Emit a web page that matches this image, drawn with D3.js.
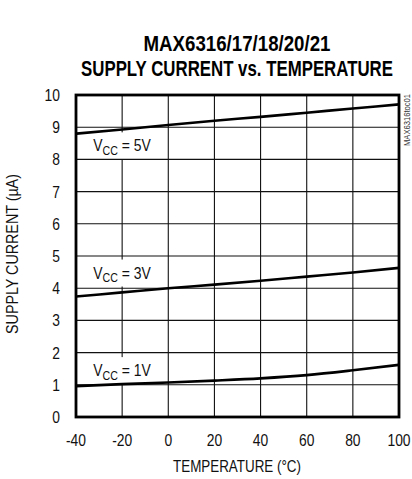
<!DOCTYPE html>
<html>
<head>
<meta charset="utf-8">
<script src="https://cdn.jsdelivr.net/npm/d3@7/dist/d3.min.js"></script>
<style>
html,body{margin:0;padding:0;background:#fff;}
svg{display:block;}
text{font-family:"Liberation Sans Narrow","Arial Narrow","Liberation Sans",Arial,sans-serif;fill:#000;}
</style>
</head>
<body>
<svg id="chart" width="412" height="479"></svg>
<script>
const titleLines = ["MAX6316/17/18/20/21", "SUPPLY CURRENT vs. TEMPERATURE"];
const xLabel = "TEMPERATURE (°C)";
const yLabel = "SUPPLY CURRENT (µA)";
const codeLabel = "MAX6316toc01";
const temps = [-40, -20, 0, 20, 40, 60, 80, 100];
const vcc5 = [8.80, 8.93, 9.07, 9.20, 9.32, 9.45, 9.58, 9.71];
const vcc3 = [3.74, 3.87, 4.00, 4.11, 4.23, 4.36, 4.49, 4.63];
const vcc1 = [0.96, 1.02, 1.07, 1.13, 1.20, 1.30, 1.45, 1.62];
const seriesNames = ["5V", "3V", "1V"];
const xTicks = [-40, -20, 0, 20, 40, 60, 80, 100];
const yTicks = [0, 1, 2, 3, 4, 5, 6, 7, 8, 9, 10];
// label anchor (data coords): temperature, current
const labelPos = [[-32.5, 8.25], [-32.5, 4.3], [-32.5, 1.27]];

const svg = d3.select("#chart");
const L = 76, R = 399, T = 95, B = 417;
const x = d3.scaleLinear().domain([-40, 100]).range([L, R]);
const y = d3.scaleLinear().domain([0, 10]).range([B, T]);

// helper: horizontally condensed text (narrow face emulation)
function ntext(parent, px, py, s, size, opt) {
  opt = opt || {};
  const g = parent.append("g").attr("transform",
    `translate(${px},${py})` + (opt.rotate ? ` rotate(${opt.rotate})` : ""));
  const t = g.append("text").attr("font-size", size)
    .attr("text-anchor", opt.anchor || "start")
    .attr("font-weight", opt.bold ? "bold" : null)
    .text(s);
  if (opt.fill) t.style("fill", opt.fill);
  let sx = opt.sx || 0.82;
  if (opt.width) sx = opt.width / t.node().getComputedTextLength();
  t.attr("transform", `scale(${sx},1)`);
  return t;
}

// title
ntext(svg, 237, 51, titleLines[0], 22, {anchor: "middle", bold: true, width: 187});
ntext(svg, 237, 76, titleLines[1], 22, {anchor: "middle", bold: true, width: 312});

// vertical gridlines
svg.append("g").selectAll("line").data(xTicks.slice(1, -1)).join("line")
  .attr("x1", d => x(d)).attr("x2", d => x(d)).attr("y1", T).attr("y2", B)
  .attr("stroke", "#111").attr("stroke-width", 1.1);

// series label boxes + labels
const seriesData = [vcc5, vcc3, vcc1];
const labels = svg.append("g");
seriesNames.forEach((name, i) => {
  const px = x(labelPos[i][0]), py = y(labelPos[i][1]);
  labels.append("rect").attr("x", px - 4).attr("y", py - 19).attr("width", 66).attr("height", 27)
    .attr("fill", "#fff");
  const g = labels.append("g").attr("transform", `translate(${px},${py}) scale(0.82,1)`);
  const t = g.append("text").attr("font-size", 17).style("fill", "#111");
  t.append("tspan").text("V");
  t.append("tspan").attr("font-size", 13).attr("dy", 3.5).text("CC");
  t.append("tspan").attr("dy", -3.5).text(" = " + name);
});

// horizontal gridlines
svg.append("g").selectAll("line").data(yTicks.slice(1, -1)).join("line")
  .attr("x1", L).attr("x2", R).attr("y1", d => y(d)).attr("y2", d => y(d))
  .attr("stroke", "#111").attr("stroke-width", 1.1);

// curves
const line = d3.line().x((d, i) => x(temps[i])).y(d => y(d)).curve(d3.curveMonotoneX);
svg.append("g").selectAll("path").data(seriesData).join("path")
  .attr("d", d => line(d)).attr("fill", "none").attr("stroke", "#000").attr("stroke-width", 2.6);

// frame
svg.append("rect").attr("x", L).attr("y", T).attr("width", R - L).attr("height", B - T)
  .attr("fill", "none").attr("stroke", "#000").attr("stroke-width", 2.8);

// y ticks
const yt = svg.append("g");
yTicks.forEach(d => ntext(yt, 60, y(d) + 6, String(d), 16.5, {anchor: "end", sx: 0.84, fill: "#111"}));
// x ticks
const xt = svg.append("g");
xTicks.forEach(d => ntext(xt, x(d), 446, String(d), 16.5, {anchor: "middle", sx: 0.84, fill: "#111"}));

// axis titles
ntext(svg, 237, 471.5, xLabel, 17, {anchor: "middle", width: 128, fill: "#111"});
ntext(svg, 18, 254, yLabel, 16.5, {anchor: "middle", rotate: -90, width: 160, fill: "#111"});

// code label
ntext(svg, 409.5, 120, codeLabel, 9.5, {anchor: "middle", rotate: -90, width: 52, fill: "#333"});
</script>
</body>
</html>
